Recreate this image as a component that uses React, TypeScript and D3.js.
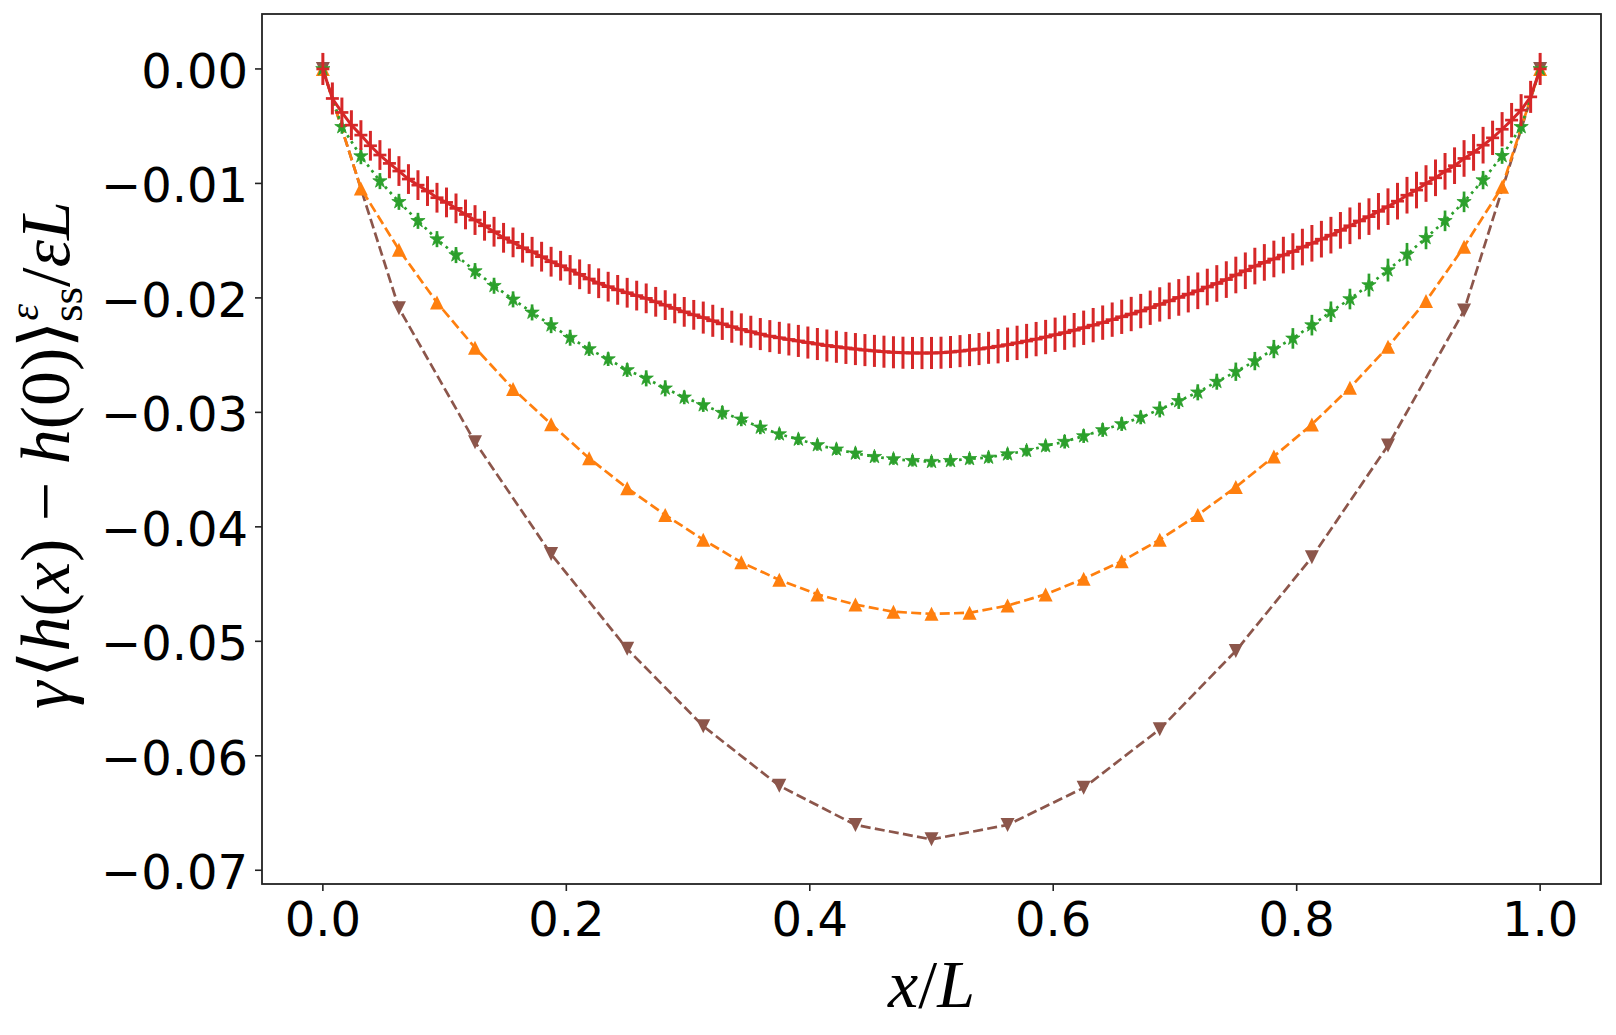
import React from "react";
import * as d3 from "d3";

// ---------- data ----------
const xTicks = [0, 0.2, 0.4, 0.6, 0.8, 1.0];
const yTicks = [0, -0.01, -0.02, -0.03, -0.04, -0.05, -0.06, -0.07];

// brown, 17 points on x = k/16
const brownY = [0, -0.0209, -0.0326, -0.04238, -0.05066, -0.05741, -0.06262, -0.06604, -0.0673,
  -0.06604, -0.0628, -0.05768, -0.05084, -0.04265, -0.0329, -0.0211, 0];

// orange, 33 points on x = k/32
const orangeY = [0, -0.01044, -0.01579, -0.02041, -0.02435, -0.02795, -0.03103, -0.03401, -0.03662,
  -0.03896, -0.04112, -0.0431, -0.04463, -0.0459, -0.04679, -0.04742, -0.0476, -0.04751, -0.04688,
  -0.0459, -0.04454, -0.04301, -0.04112, -0.03896, -0.03653, -0.03385, -0.03105, -0.02785, -0.02427,
  -0.02028, -0.01553, -0.0103, 0];

// green, 65 points on x = k/64
const greenY = [0, -0.00506, -0.00762, -0.0098, -0.01161, -0.01327, -0.01487, -0.01626, -0.01766,
  -0.01894, -0.02013, -0.02127, -0.02238, -0.02348, -0.02447, -0.02535, -0.0263, -0.02703, -0.0279,
  -0.02869, -0.02936, -0.03003, -0.03061, -0.03131, -0.0319, -0.03236, -0.03285, -0.03323, -0.03358,
  -0.03388, -0.03408, -0.03423, -0.03431, -0.03423, -0.03406, -0.03394, -0.03365, -0.03335, -0.03294,
  -0.03256, -0.03207, -0.03154, -0.03102, -0.03044, -0.02974, -0.029, -0.02825, -0.02732, -0.02645,
  -0.02552, -0.02447, -0.02354, -0.02238, -0.02121, -0.0201, -0.01888, -0.01757, -0.0162, -0.01475,
  -0.01327, -0.01161, -0.00971, -0.00759, -0.00506, 0];
const greenErr = [0.0003, 0.0006, 0.0007, 0.0007, 0.0007, 0.0007, 0.0007, 0.0007, 0.0007,
  0.0007, 0.0007, 0.0007, 0.0007, 0.0007, 0.0006, 0.0006, 0.0006, 0.0007, 0.0007,
  0.0006, 0.0006, 0.0006, 0.0006, 0.0006, 0.0005, 0.0005, 0.0005, 0.0005, 0.0005,
  0.0005, 0.0005, 0.0005, 0.0005, 0.0005, 0.0005, 0.0005, 0.0005, 0.0005, 0.0005,
  0.0006, 0.0006, 0.0006, 0.0006, 0.0006, 0.0007, 0.0007, 0.0007, 0.0007, 0.0008,
  0.0008, 0.0008, 0.0009, 0.0009, 0.0009, 0.0009, 0.001, 0.001, 0.001, 0.001,
  0.0009, 0.0009, 0.0008, 0.0007, 0.0006, 0.0003];

// red, 129 points on x = k/128
const redY = [0, -0.00258, -0.0038, -0.00491, -0.00578, -0.00671, -0.00752, -0.00825, -0.00892,
  -0.00962, -0.01015, -0.01067, -0.01125, -0.01166, -0.01218, -0.01271, -0.0132, -0.0137, -0.01422,
  -0.01475, -0.01515, -0.01562, -0.01597, -0.0164, -0.01684, -0.01719, -0.01756, -0.01794, -0.01835,
  -0.01872, -0.01902, -0.0193, -0.01955, -0.0198, -0.02004, -0.02034, -0.02063, -0.02092, -0.02122,
  -0.02148, -0.02172, -0.022, -0.02227, -0.02252, -0.02275, -0.02296, -0.02316, -0.02334, -0.02349,
  -0.02363, -0.02376, -0.0239, -0.02403, -0.02416, -0.02427, -0.02437, -0.02447, -0.02456, -0.02463,
  -0.0247, -0.02475, -0.02479, -0.02481, -0.02482, -0.02481, -0.02479, -0.02473, -0.02465, -0.02456,
  -0.02447, -0.02436, -0.02422, -0.02409, -0.02393, -0.02377, -0.0236, -0.02342, -0.02322, -0.02304,
  -0.02282, -0.02261, -0.02238, -0.02216, -0.0219, -0.02165, -0.02141, -0.02115, -0.02086, -0.02057,
  -0.02026, -0.01996, -0.01967, -0.01938, -0.01905, -0.01874, -0.0184, -0.018, -0.01763, -0.01722,
  -0.0169, -0.0166, -0.01626, -0.01595, -0.01556, -0.01523, -0.01487, -0.01452, -0.0141, -0.0137,
  -0.01328, -0.0129, -0.01244, -0.01203, -0.01155, -0.01103, -0.01058, -0.01001, -0.00951, -0.00894,
  -0.00845, -0.00782, -0.00729, -0.00666, -0.00602, -0.00527, -0.00447, -0.0036, -0.00244, 0];
const redErr = [0.0014, 0.0014, 0.0013, 0.0013, 0.0013, 0.0013, 0.0013, 0.0013, 0.0013,
  0.0013, 0.0013, 0.0013, 0.0013, 0.0013, 0.0013, 0.0013, 0.0013, 0.0013, 0.0013,
  0.0013, 0.0013, 0.0013, 0.0013, 0.0013, 0.0013, 0.0013, 0.0013, 0.0013, 0.0013,
  0.0013, 0.0013, 0.0013, 0.0013, 0.0013, 0.0013, 0.0013, 0.0013, 0.0013, 0.0013,
  0.0013, 0.0014, 0.0014, 0.0014, 0.0014, 0.0014, 0.0014, 0.0014, 0.0014, 0.0014,
  0.0014, 0.0014, 0.0014, 0.0014, 0.0014, 0.0014, 0.0014, 0.0014, 0.0014, 0.0014,
  0.0014, 0.0014, 0.0014, 0.0014, 0.0014, 0.0014, 0.0014, 0.0014, 0.0014, 0.0014,
  0.0014, 0.0014, 0.0015, 0.0015, 0.0015, 0.0015, 0.0015, 0.0015, 0.0015, 0.0015,
  0.0015, 0.0015, 0.0015, 0.0015, 0.0015, 0.0015, 0.0015, 0.0015, 0.0015, 0.0015,
  0.0016, 0.0016, 0.0016, 0.0016, 0.0016, 0.0016, 0.0016, 0.0016, 0.0016, 0.0016,
  0.0016, 0.0016, 0.0016, 0.0016, 0.0016, 0.0016, 0.0016, 0.0016, 0.0016, 0.0016,
  0.0016, 0.0016, 0.0016, 0.0016, 0.0016, 0.0016, 0.0016, 0.0016, 0.0016, 0.0016,
  0.0016, 0.0016, 0.0016, 0.0016, 0.0015, 0.0015, 0.0015, 0.0014, 0.0014, 0.0014];

// ---------- layout ----------
const W = 1616;
const H = 1035;
const PL = 262, PR = 1601, PT = 14, PB = 884;

const COLORS = {
  red: "#d62728",
  green: "#2ca02c",
  orange: "#ff7f0e",
  brown: "#8c564b",
};

const toPts = (ys: number[]) => ys.map((v, i) => ({ x: i / (ys.length - 1), y: v }));

function starPath(r: number) {
  const pts: string[] = [];
  for (let i = 0; i < 10; i++) {
    const a = (-90 + i * 36) * Math.PI / 180;
    const rr = i % 2 === 0 ? r : r * 0.381966;
    pts.push(`${(rr * Math.cos(a)).toFixed(2)},${(rr * Math.sin(a)).toFixed(2)}`);
  }
  return "M" + pts.join("L") + "Z";
}

export default function App() {
  const x = d3.scaleLinear().domain([-0.05, 1.05]).range([PL, PR]);
  const y = d3.scaleLinear().domain([0.0048, -0.0712]).range([PT, PB]);
  const line = d3.line<{ x: number; y: number }>().x(d => x(d.x)).y(d => y(d.y));
  const fmtY = d3.format(".2f");
  const fmtX = d3.format(".1f");

  const brown = toPts(brownY);
  const orange = toPts(orangeY);
  const green = toPts(greenY);
  const red = toPts(redY);

  const s = 14;
  const triDown = `M0,${s / 2}L${-s / 2},${-s / 2}L${s / 2},${-s / 2}Z`;
  const triUp = `M0,${-s / 2}L${-s / 2},${s / 2}L${s / 2},${s / 2}Z`;
  const star = starPath(7.5);

  return (
    <svg width={W} height={H} style={{ position: "absolute", left: 0, top: 0, background: "#fff" }}
      xmlns="http://www.w3.org/2000/svg">
      <rect x={0} y={0} width={W} height={H} fill="#fff" />
      <defs>
        <clipPath id="plot">
          <rect x={PL} y={PT} width={PR - PL} height={PB - PT} />
        </clipPath>
      </defs>
      <g clipPath="url(#plot)">
        {/* brown */}
        <path d={line(brown) || ""} fill="none" stroke={COLORS.brown} strokeWidth={2.7} strokeDasharray="10 4.3" />
        {brown.map((p, i) => (
          <path key={"b" + i} d={triDown} transform={`translate(${x(p.x)},${y(p.y)})`} fill={COLORS.brown} />
        ))}
        {/* orange */}
        <path d={line(orange) || ""} fill="none" stroke={COLORS.orange} strokeWidth={2.7} strokeDasharray="10 4.3" />
        {orange.map((p, i) => (
          <path key={"o" + i} d={triUp} transform={`translate(${x(p.x)},${y(p.y)})`} fill={COLORS.orange} />
        ))}
        {/* green */}
        <path d={line(green) || ""} fill="none" stroke={COLORS.green} strokeWidth={2.7} strokeDasharray="2.7 4.4" />
        {green.map((p, i) => (
          <line key={"ge" + i} x1={x(p.x)} x2={x(p.x)} y1={y(p.y + greenErr[i])} y2={y(p.y - greenErr[i])}
            stroke={COLORS.green} strokeWidth={2.7} />
        ))}
        {green.map((p, i) => (
          <path key={"g" + i} d={star} transform={`translate(${x(p.x)},${y(p.y)})`} fill={COLORS.green}
            stroke={COLORS.green} strokeWidth={0.8} strokeLinejoin="round" />
        ))}
        {/* red */}
        <path d={line(red) || ""} fill="none" stroke={COLORS.red} strokeWidth={3} />
        {red.map((p, i) => (
          <line key={"re" + i} x1={x(p.x)} x2={x(p.x)} y1={y(p.y + redErr[i])} y2={y(p.y - redErr[i])}
            stroke={COLORS.red} strokeWidth={3} />
        ))}
        {red.map((p, i) => (
          <line key={"rm" + i} x1={x(p.x) - 6.5} x2={x(p.x) + 6.5} y1={y(p.y)} y2={y(p.y)}
            stroke={COLORS.red} strokeWidth={2.7} />
        ))}
      </g>

      {/* frame */}
      <rect x={PL} y={PT} width={PR - PL} height={PB - PT} fill="none" stroke="#222" strokeWidth={1.8} />

      {/* y ticks */}
      {yTicks.map(t => (
        <g key={"yt" + t}>
          <line x1={PL - 7} x2={PL} y1={y(t)} y2={y(t)} stroke="#222" strokeWidth={1.6} />
          <text x={PL - 14} y={y(t) + 19} textAnchor="end" fontFamily="DejaVu Sans" fontSize={48} fill="#000">
            {fmtY(t)}
          </text>
        </g>
      ))}
      {/* x ticks */}
      {xTicks.map(t => (
        <g key={"xt" + t}>
          <line x1={x(t)} x2={x(t)} y1={PB} y2={PB + 7} stroke="#222" strokeWidth={1.6} />
          <text x={x(t)} y={PB + 52} textAnchor="middle" fontFamily="DejaVu Sans" fontSize={48} fill="#000">
            {fmtX(t)}
          </text>
        </g>
      ))}

      {/* x label */}
      <text x={(PL + PR) / 2} y={1007} textAnchor="middle" fontFamily="Liberation Serif" fontSize={68} fill="#000">
        <tspan fontStyle="italic">x</tspan>/<tspan fontStyle="italic">L</tspan>
      </text>

      {/* y label */}
      <text transform={`translate(69,${(PT + PB) / 2 + 6}) rotate(-90)`} textAnchor="middle"
        fontFamily="Liberation Serif" fontSize={70} fill="#000" xmlSpace="preserve">
        <tspan fontStyle="italic">γ</tspan>
        <tspan dx={3}>⟨</tspan>
        <tspan fontStyle="italic">h</tspan>
        <tspan>(</tspan>
        <tspan fontStyle="italic">x</tspan>
        <tspan>{") − "}</tspan>
        <tspan fontStyle="italic">h</tspan>
        <tspan>(0)⟩</tspan>
        <tspan fontStyle="italic" fontSize={42} dy={-31}>ε</tspan>
        <tspan fontSize={45} dx={-18} dy={44}>ss</tspan>
        <tspan dy={-13}>/</tspan>
        <tspan fontStyle="italic">εL</tspan>
      </text>
    </svg>
  );
}
